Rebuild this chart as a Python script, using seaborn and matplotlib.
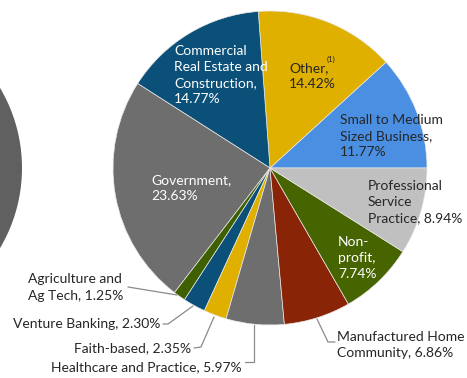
import matplotlib
matplotlib.use("Agg")
import matplotlib.pyplot as plt
import seaborn as sns

sns.set_theme(style="white")
plt.rcParams["font.family"] = ["Lato", "DejaVu Sans"]

# Loan portfolio by industry (percent of total), counter-clockwise from 3 o'clock
categories = [
    "Small to Medium Sized Business",
    "Other",
    "Commercial Real Estate and Construction",
    "Government",
    "Agriculture and Ag Tech",
    "Venture Banking",
    "Faith-based",
    "Healthcare and Practice",
    "Manufactured Home Community",
    "Non-profit",
    "Professional Service Practice",
]
shares = [11.77, 14.42, 14.77, 23.63, 1.25, 2.30, 2.35, 5.97, 6.86, 7.74, 8.94]
slice_colors = [
    "#4a8fe2", "#dfb000", "#0a5078", "#6e6e6e", "#3f6000", "#0a5078",
    "#dfb000", "#6e6e6e", "#8a2406", "#466400", "#c0c0c0",
]
label_texts = [
    "Small to Medium\nSized Business,\n11.77%",
    "Other,\n14.42%",
    "Commercial\nReal Estate and\nConstruction,\n14.77%",
    "Government,\n23.63%",
    "Agriculture and\nAg Tech, 1.25%",
    "Venture Banking, 2.30%",
    "Faith-based, 2.35%",
    "Healthcare and Practice, 5.97%",
    "Manufactured Home\nCommunity, 6.86%",
    "Non-\nprofit,\n7.74%",
    "Professional\nService\nPractice, 8.94%",
]

W, H = 467, 378
fig = plt.figure(figsize=(W / 100, H / 100), dpi=100)
ax = fig.add_axes([0, 0, 1, 1])


def Y(y):
    # canvas rows counted from the top
    return H - y


R = 157
CX, CY = 270, 168

# neighbouring pie, mostly off the left edge
ax.pie([1], colors=["#606060"], radius=R, center=(-135, Y(CY)),
       wedgeprops=dict(linewidth=0))

ax.pie(shares, colors=slice_colors, radius=R, center=(CX, Y(CY)),
       startangle=0, counterclock=True,
       wedgeprops=dict(linewidth=0.5, edgecolor="#e8e8e8"))

ax.set_xlim(0, W)
ax.set_ylim(0, H)
ax.set_aspect("equal")
ax.axis("off")

FS = 10
LS = 1.42
dark = "#262626"
light = "#ffffff"

# labels inside the slices: (x, y centre, colour)
inside = {
    0: (340, 136, dark),
    1: (289, 76, dark),
    2: (174, 75, light),
    3: (151, 188, light),
    9: (338, 258, light),
    10: (368, 202, dark),
}
for i, (x, y, c) in inside.items():
    ax.text(x, Y(y), label_texts[i], ha="left", va="center", fontsize=FS,
            color=c, linespacing=LS)
ax.text(327, Y(59), "(1)", ha="left", va="center", fontsize=5.5, color=dark)

# labels outside the pie with leader lines
outside = {
    4: (123, 287.5, "right", [(128, 287), (177, 295)]),
    5: (160, 324, "right", [(163, 324), (168, 324), (193, 306)]),
    6: (191, 348, "right", [(194, 348), (201, 347), (214, 317)]),
    7: (242, 367, "right", [(245, 362), (254, 362), (254, 325)]),
    8: (337, 345, "left", [(317, 319), (328, 342), (335, 342)]),
}
for i, (x, y, ha, pts) in outside.items():
    ax.text(x, Y(y), label_texts[i], ha=ha, va="center", fontsize=FS,
            color=dark, linespacing=LS, multialignment="left")
    ax.plot([p[0] for p in pts], [Y(p[1]) for p in pts], color="#8a8a8a",
            lw=0.9, solid_joinstyle="miter")

fig.savefig("out.png", dpi=100)
